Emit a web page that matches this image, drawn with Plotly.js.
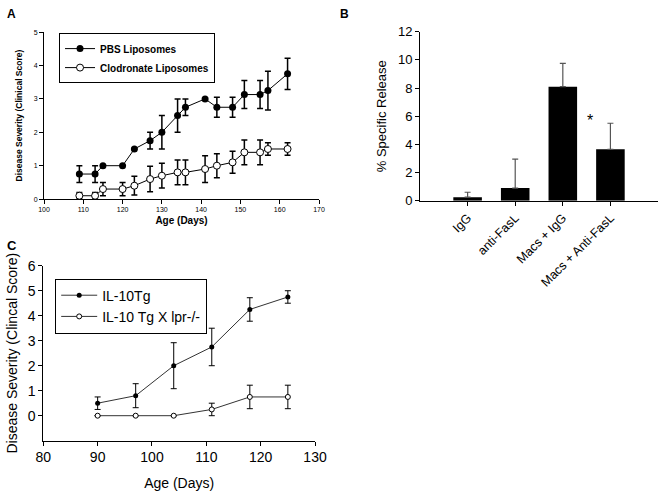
<!DOCTYPE html>
<html>
<head>
<meta charset="utf-8">
<script src="https://cdn.plot.ly/plotly-3.0.1.min.js"></script>
<style>
  html, body { margin: 0; padding: 0; background: #fff; }
  #chart { width: 661px; height: 494px; }
</style>
</head>
<body>
<div id="chart"></div>
<script>
// Panel A - liposome treatment
var ageA = [109, 113, 115, 120, 123, 127, 130, 134, 136, 141, 144, 148, 151, 155, 157, 162];
var pbs = [0.75, 0.75, 1.0, 1.0, 1.5, 1.75, 2.0, 2.5, 2.75, 3.0, 2.75, 2.75, 3.13, 3.13, 3.25, 3.75];
var pbsErr = [0.25, 0.25, 0, 0, 0, 0.25, 0.5, 0.5, 0.25, 0, 0.3, 0.3, 0.42, 0.42, 0.58, 0.47];
var clod = [0.1, 0.1, 0.3, 0.3, 0.4, 0.6, 0.7, 0.8, 0.8, 0.9, 1.0, 1.1, 1.4, 1.4, 1.5, 1.5];
var clodErr = [0.1, 0.1, 0.2, 0.2, 0.28, 0.38, 0.37, 0.37, 0.37, 0.4, 0.36, 0.33, 0.37, 0.37, 0.19, 0.19];

// Panel B - specific release
var groupsB = ["IgG", "anti-FasL", "Macs + IgG", "Macs + Anti-FasL"];
var release = [0.25, 0.9, 8.1, 3.65];
var releaseErr = [0.35, 2.05, 1.65, 1.85];

// Panel C - IL-10 transgenic
var ageC = [90, 97, 104, 111, 118, 125];
var il10 = [0.5, 0.8, 2.0, 2.75, 4.25, 4.75];
var il10Err = [0.25, 0.48, 0.92, 0.75, 0.47, 0.25];
var il10lpr = [0, 0, 0, 0.25, 0.75, 0.75];
var il10lprErr = [0, 0, 0, 0.25, 0.47, 0.47];

var FONT = "Arial, 'Liberation Sans', sans-serif";

function errs(arr, w, th) {
    return { type: 'data', array: arr, visible: true, color: '#000', thickness: th, width: w };
}

var data = [
    {
        x: ageA, y: pbs, name: 'PBS Liposomes',
        xaxis: 'x', yaxis: 'y', legend: 'legend',
        mode: 'lines+markers', type: 'scatter',
        line: { color: '#000', width: 1 },
        marker: { color: '#000', size: 7 },
        error_y: errs(pbsErr, 3, 1.5),
    },
    {
        x: ageA, y: clod, name: 'Clodronate Liposomes',
        xaxis: 'x', yaxis: 'y', legend: 'legend',
        mode: 'lines+markers', type: 'scatter',
        line: { color: '#000', width: 1 },
        marker: { color: '#fff', size: 7, line: { color: '#000', width: 1 } },
        error_y: errs(clodErr, 3, 1.5),
    },
    {
        x: groupsB, y: release, type: 'bar', showlegend: false,
        xaxis: 'x2', yaxis: 'y2', width: 0.6,
        marker: { color: '#000' },
        error_y: { type: 'data', symmetric: false, array: releaseErr, arrayminus: [0, 0, 0, 0],
                   color: '#555', thickness: 1.2, width: 3 },
    },
    {
        x: ageC, y: il10, name: 'IL-10Tg',
        xaxis: 'x3', yaxis: 'y3', legend: 'legend2',
        mode: 'lines+markers', type: 'scatter',
        line: { color: '#333', width: 1 },
        marker: { color: '#000', size: 5 },
        error_y: errs(il10Err, 3, 1),
    },
    {
        x: ageC, y: il10lpr, name: 'IL-10 Tg X lpr-/-',
        xaxis: 'x3', yaxis: 'y3', legend: 'legend2',
        mode: 'lines+markers', type: 'scatter',
        line: { color: '#333', width: 1 },
        marker: { color: '#fff', size: 5, line: { color: '#000', width: 1 } },
        error_y: errs(il10lprErr, 3, 1),
    },
];

var axBase = {
    showline: true, linecolor: '#000', linewidth: 1,
    ticks: 'outside', ticklen: 4, tickcolor: '#000',
    showgrid: false, zeroline: false,
};

function ax(extra) { return Object.assign({}, axBase, extra); }

var layout = {
    width: 661, height: 494,
    margin: { l: 0, r: 0, t: 0, b: 0 },
    paper_bgcolor: '#fff', plot_bgcolor: '#fff',
    font: { family: FONT, color: '#000' },
    showlegend: true,

    xaxis: ax({ domain: [0.0666, 0.4826], anchor: 'y', range: [100, 170], dtick: 10,
                tickfont: { size: 7 },
                title: { text: 'Age (Days)', font: { size: 10, weight: 'bold' }, standoff: 4 } }),
    yaxis: ax({ domain: [0.597, 0.935], anchor: 'x', range: [0, 5], dtick: 1,
                tickfont: { size: 7 },
                title: { text: 'Disease Severity (Clinical Score)', font: { size: 8.5, weight: 'bold' }, standoff: 9 } }),

    xaxis2: ax({ domain: [0.6354, 0.9955], anchor: 'y2', type: 'category', range: [-1, 4],
                 tickangle: -45, tickfont: { size: 12.5 } }),
    yaxis2: ax({ domain: [0.5937, 0.9358], anchor: 'x2', range: [0, 12], dtick: 2,
                 tickfont: { size: 13 },
                 title: { text: '% Specific Release', font: { size: 13 }, standoff: 8 } }),

    xaxis3: ax({ domain: [0.0655, 0.4766], anchor: 'y3', range: [80, 130], dtick: 10,
                 tickfont: { size: 14 },
                 title: { text: 'Age (Days)', font: { size: 14 }, standoff: 13 } }),
    yaxis3: ax({ domain: [0.1079, 0.4621], anchor: 'x3', range: [-1, 6],
                 tickvals: [0, 1, 2, 3, 4, 5, 6], tickfont: { size: 14 },
                 title: { text: 'Disease Severity (Clincal Score)', font: { size: 14 }, standoff: 6 } }),

    legend: { x: 0.0893, y: 0.933, xanchor: 'left', yanchor: 'top',
              bordercolor: '#000', borderwidth: 1, bgcolor: '#fff',
              font: { size: 10, weight: 'bold' }, tracegroupgap: 0 },
    legend2: { x: 0.0835, y: 0.436, xanchor: 'left', yanchor: 'top',
               bordercolor: '#000', borderwidth: 1, bgcolor: '#fff',
               font: { size: 14 }, tracegroupgap: 0, itemwidth: 36 },

    annotations: [
        { text: '<b>A</b>', xref: 'paper', yref: 'paper', x: 0.008, y: 0.99, xanchor: 'left', yanchor: 'top',
          showarrow: false, font: { size: 12 } },
        { text: '<b>B</b>', xref: 'paper', yref: 'paper', x: 0.511, y: 0.99, xanchor: 'left', yanchor: 'top',
          showarrow: false, font: { size: 12 } },
        { text: '<b>C</b>', xref: 'paper', yref: 'paper', x: 0.008, y: 0.522, xanchor: 'left', yanchor: 'top',
          showarrow: false, font: { size: 13 } },
        { text: '*', xref: 'x2', yref: 'y2', x: 2.58, y: 5.7, showarrow: false, font: { size: 16 } },
    ],
};

var config = { responsive: false, displayModeBar: false };
Plotly.newPlot(document.getElementById('chart'), data, layout, config);
</script>
</body>
</html>
